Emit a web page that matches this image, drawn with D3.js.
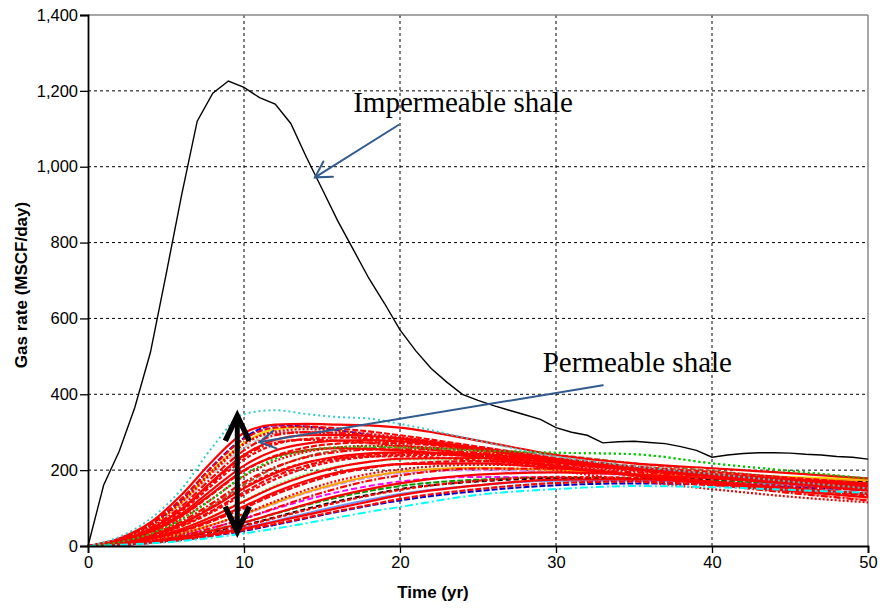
<!DOCTYPE html>
<html>
<head>
<meta charset="utf-8">
<script src="https://cdn.jsdelivr.net/npm/d3@7"></script>
<style>
  body { margin: 0; background: #fff; }
</style>
</head>
<body>
<svg id="chart" width="880" height="608"></svg>
<script>
// ---- data ----
var timeGrid = [0, 2, 4, 6, 8, 10, 12, 14, 16, 18, 20, 25, 30, 35, 40, 45, 50];

var impTime = [0,1,2,3,4,5,6,7,8,9,10,11,12,13,14,15,16,17,18,19,20,21,22,23,24,25,26,27,28,29,30,31,32,33,34,35,36,37,38,39,40,41,42,43,44,45,46,47,48,49,50];
var impRate = [0,160,250,365,510,715,925,1120,1194,1226,1209,1182,1165,1114,1025,942,858,782,706,640,570,515,468,432,400,384,370,358,346,334,312,300,292,272,275,276,273,270,262,252,234,240,244,246,246,245,242,240,236,234,229];

var redRates = [
  [0,20,62,135,225,298,320,322,320,318,312,278,240,218,205,192,178],
  [0,19,58,125,210,282,312,315,310,302,292,262,232,210,195,180,165],
  [0,17,52,115,195,268,302,308,304,296,287,258,228,205,188,172,158],
  [0,16,48,105,182,252,292,300,298,292,284,256,226,203,185,168,152],
  [0,15,45,98,172,240,280,292,293,290,284,258,230,206,186,168,150],
  [0,14,42,92,162,228,268,282,286,285,280,256,228,204,184,165,146],
  [0,13,39,85,150,212,252,270,278,279,276,255,228,205,185,166,148],
  [0,12,36,78,138,198,238,260,270,273,271,254,228,206,187,170,154],
  [0,11,33,72,126,184,224,248,260,264,263,250,226,205,186,168,150],
  [0,10,30,65,114,168,208,234,248,254,255,246,226,206,188,170,155],
  [0,9,27,58,102,152,192,220,236,244,247,242,225,206,188,172,158],
  [0,8,24,52,90,136,176,206,225,235,240,238,224,206,190,175,160],
  [0,7,21,45,78,118,156,186,208,222,230,232,220,204,189,175,162],
  [0,6,18,38,66,100,136,166,190,206,216,224,215,202,188,176,164],
  [0,5,15,32,56,85,118,148,172,190,202,214,210,198,186,174,163],
  [0,5,13,27,48,72,100,128,152,172,186,204,204,194,184,172,160],
  [0,4,11,23,41,62,86,110,132,150,165,188,194,188,178,166,154],
  [0,4,10,20,35,53,74,95,115,133,148,172,182,180,170,158,146],
  [0,3,9,18,31,46,64,82,100,117,134,160,175,176,166,152,138],
  [0,3,8,16,28,42,58,75,92,108,124,150,166,170,160,146,132],
  [0,18,55,118,200,270,298,300,292,280,268,235,200,172,150,130,115],
  [0,14,44,96,168,236,272,280,278,272,264,240,212,185,162,140,120],
  [0,12,37,80,140,200,236,252,258,256,252,234,210,186,165,145,128],
  [0,9,28,60,104,155,195,220,232,236,236,226,208,188,168,150,135],
  [0,6,19,40,70,105,142,172,194,208,216,218,205,188,170,152,138],
  [0,8,25,54,94,142,184,212,230,240,244,238,220,200,182,164,148]
];

var otherColors = ["#ffd700","#0000ff","#00cc00","#c8c8c8","#996633","#ff00ff","#cc99ff","#ffa500","#009900","#000000","#6699ff","#0000cc","#ff9980","#66ff66","#ff99cc","#00ffff","#33cccc"];
var otherDash = ["", "6,2", "2,3", "7,3", "6,2", "6,3", "7,2", "", "6,2", "5,3", "", "6,2", "7,3", "2,2", "6,2", "8,3,2,3", "2,3"];
var otherRates = [
  [0,17,52,115,200,272,308,314,305,292,280,252,225,205,190,182,176],
  [0,18,56,122,212,285,318,315,305,294,283,256,226,202,182,162,146],
  [0,10,32,70,125,186,230,252,260,262,260,252,246,242,218,198,178],
  [0,16,50,108,190,260,295,302,298,292,286,262,236,212,194,178,162],
  [0,9,28,60,108,162,206,236,252,258,260,254,240,218,198,180,166],
  [0,5,14,28,48,72,98,122,142,158,170,182,180,176,170,163,155],
  [0,5,15,32,55,82,112,140,162,180,192,200,195,186,178,172,166],
  [0,5,16,33,57,84,114,142,165,183,196,206,200,190,182,178,172],
  [0,4,12,25,42,62,85,108,128,145,158,175,180,178,172,164,156],
  [0,4,11,22,37,55,76,98,118,135,150,170,178,178,176,172,168],
  [0,3,9,19,32,48,66,86,105,122,137,160,172,172,167,160,152],
  [0,3,8,16,27,40,56,73,90,106,120,145,160,165,162,155,148],
  [0,14,44,98,172,240,275,282,278,270,262,240,215,190,165,142,122],
  [0,7,22,46,80,120,160,190,210,222,228,228,218,205,190,176,162],
  [0,6,18,38,66,100,136,166,190,206,216,222,212,200,188,176,165],
  [0,3,7,13,22,33,46,60,75,90,103,135,150,158,155,148,140],
  [0,24,72,150,262,348,358,348,340,336,322,278,236,210,190,170,152]
];

var xTicks = [0, 10, 20, 30, 40, 50];
var yTicks = [0, 200, 400, 600, 800, 1000, 1200, 1400];

// ---- layout ----
var sans = "Arial, 'Liberation Sans', sans-serif";
var serif = "'Times New Roman', 'Liberation Serif', serif";
var svg = d3.select("#chart");
var margin = {left: 88, right: 12, top: 15, bottom: 62};
var W = 880 - margin.left - margin.right;
var H = 608 - margin.top - margin.bottom;
var g = svg.append("g").attr("transform", "translate(" + margin.left + "," + margin.top + ")");

var x = d3.scaleLinear().domain([0, 50]).range([0, W]);
var y = d3.scaleLinear().domain([0, 1400]).range([H, 0]);

// grid
g.selectAll(".vgrid").data(xTicks.slice(1, -1)).enter().append("line")
  .attr("x1", d => x(d)).attr("x2", d => x(d)).attr("y1", 0).attr("y2", H)
  .attr("stroke", "#000").attr("stroke-width", 1).attr("stroke-dasharray", "3,3");
g.selectAll(".hgrid").data(yTicks.slice(1, -1)).enter().append("line")
  .attr("y1", d => y(d)).attr("y2", d => y(d)).attr("x1", 0).attr("x2", W)
  .attr("stroke", "#000").attr("stroke-width", 1).attr("stroke-dasharray", "3,3");

// frame (top & right)
g.append("line").attr("x1", 0).attr("x2", W).attr("y1", 0).attr("y2", 0).attr("stroke", "#888").attr("stroke-width", 1.5);
g.append("line").attr("x1", W).attr("x2", W).attr("y1", 0).attr("y2", H).attr("stroke", "#888").attr("stroke-width", 1.5);

var line = d3.line().x((d, i) => x(timeGrid[i])).y(d => y(d)).curve(d3.curveMonotoneX);
var dashes = [null, "6,2", "2,2", "7,2,2,2", null, "4,2"];
var nOther = otherRates.length;

// other coloured runs (except envelopes)
g.selectAll(".other").data(otherRates.slice(0, nOther - 2)).enter().append("path")
  .attr("d", line).attr("fill", "none")
  .attr("stroke", (d, i) => otherColors[i])
  .attr("stroke-width", 2)
  .attr("stroke-dasharray", (d, i) => otherDash[i] || null);

// red runs
g.selectAll(".red").data(redRates).enter().append("path")
  .attr("d", line).attr("fill", "none")
  .attr("stroke", "#ff0000")
  .attr("stroke-width", 2.2)
  .attr("stroke-dasharray", (d, i) => dashes[i % dashes.length]);

// green dotted run stays visible on top in late time
g.append("path").attr("d", line(otherRates[2])).attr("fill", "none")
  .attr("stroke", otherColors[2]).attr("stroke-width", 2).attr("stroke-dasharray", otherDash[2]);

// top & bottom envelope
[nOther - 1, nOther - 2].forEach(function (k) {
  g.append("path").attr("d", line(otherRates[k])).attr("fill", "none")
    .attr("stroke", otherColors[k]).attr("stroke-width", 2)
    .attr("stroke-dasharray", otherDash[k]);
});

// impermeable
var impLine = d3.line().x((d, i) => x(impTime[i])).y(d => y(d));
g.append("path").attr("d", impLine(impRate)).attr("fill", "none")
  .attr("stroke", "#000").attr("stroke-width", 1.4);

// axes
var yAxis = d3.axisLeft(y).tickValues(yTicks).tickFormat(d3.format(",")).tickSize(8).tickPadding(2);
var xAxis = d3.axisBottom(x).tickValues(xTicks).tickSize(7).tickPadding(3);
var ya = g.append("g").call(yAxis);
var xa = g.append("g").attr("transform", "translate(0," + H + ")").call(xAxis);
[ya, xa].forEach(function (a) {
  a.attr("font-family", null).attr("font-size", null);
  a.select(".domain").attr("stroke", "#000").attr("stroke-width", 1.8);
  a.selectAll(".tick line").attr("stroke", "#000").attr("stroke-width", 1.3);
  a.selectAll("text").attr("fill", "#000").style("font-size", "16.5px").style("font-family", sans);
});

// axis titles
svg.append("text").attr("x", 433).attr("y", 598).attr("text-anchor", "middle")
  .style("font-family", sans).style("font-size", "17px").style("font-weight", "bold").text("Time (yr)");
svg.append("text").attr("transform", "translate(27,285) rotate(-90)").attr("text-anchor", "middle")
  .style("font-family", sans).style("font-size", "17px").style("font-weight", "bold").text("Gas rate (MSCF/day)");

// annotations
function openArrow(x0, y0, x1, y1, color, width, len, ang) {
  g.append("line").attr("x1", x0).attr("y1", y0).attr("x2", x1).attr("y2", y1)
    .attr("stroke", color).attr("stroke-width", width).attr("stroke-linecap", "round");
  var a = Math.atan2(y0 - y1, x0 - x1);
  var p = [a - ang, a + ang].map(t => [x1 + len * Math.cos(t), y1 + len * Math.sin(t)]);
  g.append("path").attr("d", "M" + p[0] + "L" + x1 + "," + y1 + "L" + p[1])
    .attr("fill", "none").attr("stroke", color).attr("stroke-width", width)
    .attr("stroke-linejoin", "miter").attr("stroke-linecap", "round");
}
var blue = "#2f5b8e";
openArrow(x(19.9), y(1110), x(14.55), y(972), blue, 2, 18, Math.PI / 6);
openArrow(x(33.0), y(424), x(11.0), y(274), blue, 2, 18, Math.PI / 6);

// double-headed spread arrow
var ax = x(9.57);
g.append("line").attr("x1", ax).attr("x2", ax).attr("y1", y(335)).attr("y2", y(46))
  .attr("stroke", "#000").attr("stroke-width", 5);
[[y(343), 1], [y(38), -1]].forEach(function (t) {
  g.append("path")
    .attr("d", "M" + (ax - 12) + "," + (t[0] + t[1] * 25) + "L" + ax + "," + t[0] + "L" + (ax + 12) + "," + (t[0] + t[1] * 25))
    .attr("fill", "none").attr("stroke", "#000").attr("stroke-width", 5.5)
    .attr("stroke-linejoin", "miter").attr("stroke-linecap", "butt");
});

g.append("text").attr("x", x(17.0)).attr("y", y(1145))
  .style("font-family", serif).style("font-size", "29px").attr("fill", "#000").text("Impermeable shale");
g.append("text").attr("x", x(29.15)).attr("y", y(459))
  .style("font-family", serif).style("font-size", "29px").attr("fill", "#000").text("Permeable shale");
</script>
</body>
</html>
